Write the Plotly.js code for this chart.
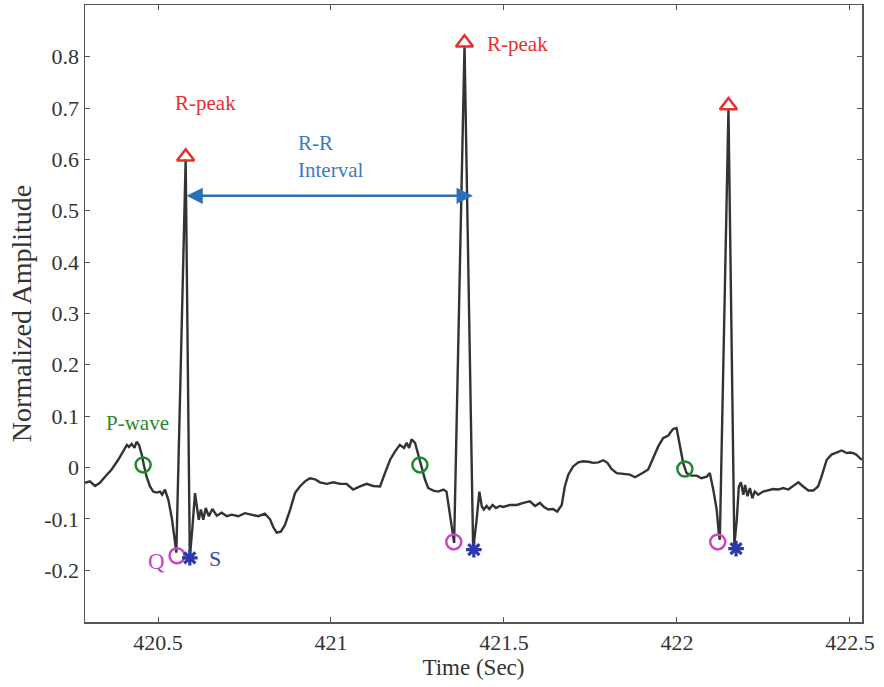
<!DOCTYPE html>
<html>
<head>
<meta charset="utf-8">
<script src="https://cdn.plot.ly/plotly-3.0.1.min.js"></script>
<style>html,body{margin:0;padding:0;background:#fff;}#chart{width:884px;height:687px;}</style>
</head>
<body>
<div id="chart"></div>
<script>
// ECG trace (time in seconds, normalized amplitude)
const timeSec = [
 420.289, 420.303, 420.318, 420.332, 420.347, 420.366, 420.385, 420.400, 420.410, 420.416,
 420.424, 420.432, 420.438, 420.445, 420.453, 420.460, 420.467, 420.477, 420.486, 420.496,
 420.506, 420.512, 420.520, 420.530, 420.540, 420.547, 420.553, 420.580, 420.592, 420.599,
 420.607, 420.613, 420.618, 420.624, 420.631, 420.638, 420.647, 420.657, 420.670, 420.684,
 420.699, 420.713, 420.732, 420.751, 420.771, 420.790, 420.809, 420.824, 420.833, 420.843,
 420.855, 420.867, 420.882, 420.896, 420.910, 420.925, 420.939, 420.954, 420.968, 420.988,
 421.007, 421.026, 421.045, 421.064, 421.084, 421.103, 421.122, 421.142, 421.156, 421.171,
 421.185, 421.199, 421.211, 421.219, 421.226, 421.233, 421.243, 421.252, 421.262, 421.272,
 421.281, 421.296, 421.310, 421.325, 421.334, 421.344, 421.352, 421.356, 421.386, 421.411,
 421.421, 421.429, 421.436, 421.442, 421.450, 421.458, 421.467, 421.477, 421.488, 421.498,
 421.517, 421.537, 421.556, 421.575, 421.590, 421.604, 421.616, 421.628, 421.642, 421.654,
 421.667, 421.676, 421.686, 421.700, 421.715, 421.729, 421.744, 421.758, 421.773, 421.787,
 421.799, 421.811, 421.826, 421.845, 421.864, 421.879, 421.888, 421.903, 421.917, 421.932,
 421.946, 421.960, 421.975, 421.980, 421.989, 421.999, 422.009, 422.018, 422.028, 422.042,
 422.057, 422.071, 422.086, 422.095, 422.105, 422.115, 422.121, 422.124, 422.149, 422.166,
 422.173, 422.179, 422.185, 422.192, 422.197, 422.204, 422.211, 422.218, 422.225, 422.235,
 422.249, 422.264, 422.278, 422.293, 422.307, 422.322, 422.336, 422.351, 422.365, 422.380,
 422.394, 422.408, 422.418, 422.433, 422.447, 422.462, 422.476, 422.491, 422.500, 422.510,
 422.519, 422.529, 422.535
];
const amplitude = [
 -0.030, -0.027, -0.036, -0.030, -0.018, -0.004, 0.015, 0.031, 0.044, 0.040,
 0.046, 0.038, 0.050, 0.044, 0.025, 0.002, -0.018, -0.037, -0.047, -0.049,
 -0.047, -0.053, -0.043, -0.063, -0.099, -0.134, -0.166, 0.600, -0.175, -0.121,
 -0.050, -0.079, -0.102, -0.082, -0.102, -0.079, -0.095, -0.081, -0.094, -0.088,
 -0.095, -0.092, -0.095, -0.089, -0.092, -0.095, -0.090, -0.101, -0.116, -0.127,
 -0.125, -0.112, -0.082, -0.050, -0.037, -0.027, -0.021, -0.023, -0.029, -0.032,
 -0.029, -0.032, -0.032, -0.043, -0.037, -0.032, -0.036, -0.037, -0.011, 0.015,
 0.031, 0.044, 0.038, 0.048, 0.038, 0.055, 0.048, 0.025, 0.002, -0.024,
 -0.040, -0.045, -0.047, -0.043, -0.047, -0.089, -0.128, -0.147, 0.822, -0.160,
 -0.102, -0.047, -0.076, -0.082, -0.075, -0.081, -0.073, -0.079, -0.075, -0.077,
 -0.073, -0.073, -0.069, -0.066, -0.075, -0.069, -0.077, -0.082, -0.081, -0.086,
 -0.073, -0.037, -0.014, 0.002, 0.010, 0.012, 0.011, 0.009, 0.010, 0.014,
 0.009, -0.003, -0.011, -0.012, -0.014, -0.019, -0.016, -0.010, -0.004, 0.021,
 0.041, 0.057, 0.062, 0.067, 0.075, 0.077, 0.041, 0.009, -0.011, -0.016,
 -0.016, -0.021, -0.018, -0.011, -0.043, -0.082, -0.128, -0.141, 0.698, -0.151,
 -0.102, -0.037, -0.029, -0.053, -0.034, -0.056, -0.040, -0.060, -0.047, -0.053,
 -0.047, -0.045, -0.042, -0.043, -0.040, -0.043, -0.036, -0.029, -0.037, -0.045,
 -0.045, -0.037, -0.018, 0.015, 0.025, 0.029, 0.033, 0.028, 0.029, 0.028,
 0.025, 0.018, 0.015
];

// Fiducial points
const rPeakT = [420.580, 421.386, 422.149];
const rPeakV = [0.605, 0.827, 0.705];
const qT = [420.555, 421.355, 422.118];
const qV = [-0.172, -0.145, -0.145];
const sT = [420.592, 421.413, 422.171];
const sV = [-0.176, -0.160, -0.158];
const pT = [420.457, 421.257, 422.023];
const pV = [0.005, 0.005, -0.003];

// R-R interval arrow (start/end time, level)
const rrStartT = 420.578;
const rrEndT = 421.410;
const rrLevel = 0.529;

const xTickVals = [420.5, 421, 421.5, 422, 422.5];
const xTickText = ['420.5', '421', '421.5', '422', '422.5'];
const yTickVals = [-0.2, -0.1, 0, 0.1, 0.2, 0.3, 0.4, 0.5, 0.6, 0.7, 0.8];
const yTickText = ['-0.2', '-0.1', '0', '0.1', '0.2', '0.3', '0.4', '0.5', '0.6', '0.7', '0.8'];

const serif = 'Liberation Serif, Times New Roman, serif';

const traces = [
  {x: timeSec, y: amplitude, type: 'scatter', mode: 'lines',
   line: {color: '#333333', width: 2.4}, hoverinfo: 'x+y'},
  {x: rPeakT, y: rPeakV, type: 'scatter', mode: 'markers',
   marker: {symbol: 'triangle-up-open', size: 15, color: '#e8302a', line: {width: 2.5, color: '#e8302a'}}},
  {x: qT, y: qV, type: 'scatter', mode: 'markers',
   marker: {symbol: 'circle-open', size: 15, color: '#cc44c8', line: {width: 2.5, color: '#cc44c8'}}},
  {x: sT, y: sV, type: 'scatter', mode: 'markers',
   marker: {symbol: 'asterisk-open', size: 13, color: '#2b3aa8', line: {width: 3.2, color: '#2b3aa8'}}},
  {x: pT, y: pV, type: 'scatter', mode: 'markers',
   marker: {symbol: 'circle-open', size: 15, color: '#1e8a2e', line: {width: 2.5, color: '#1e8a2e'}}}
];

const annFont = (c) => ({family: serif, size: 21, color: c});

const layout = {
  width: 884, height: 687,
  margin: {l: 85, r: 22, t: 5, b: 65},
  paper_bgcolor: '#ffffff', plot_bgcolor: '#ffffff',
  showlegend: false,
  font: {family: serif, color: '#333333'},
  xaxis: {
    range: [420.289, 422.535], tickvals: xTickVals, ticktext: xTickText,
    showgrid: false, zeroline: false,
    showline: true, mirror: 'allticks', linecolor: '#555555', linewidth: 1.5,
    ticks: 'inside', ticklen: 5, tickcolor: '#555555',
    tickfont: {family: serif, size: 22, color: '#333333'},
    title: {text: 'Time (Sec)', font: {family: serif, size: 23, color: '#333333'}, standoff: 4}
  },
  yaxis: {
    range: [-0.301, 0.9007], tickvals: yTickVals, ticktext: yTickText,
    showgrid: false, zeroline: false,
    showline: true, mirror: 'allticks', linecolor: '#555555', linewidth: 1.5,
    ticks: 'inside', ticklen: 5, tickcolor: '#555555',
    tickfont: {family: serif, size: 22, color: '#333333'},
    title: {text: 'Normalized Amplitude', font: {family: serif, size: 28, color: '#333333'}, standoff: 4}
  },
  annotations: [
    {x: 420.636, y: 0.710, text: 'R-peak', showarrow: false, font: annFont('#e8302a')},
    {x: 421.540, y: 0.825, text: 'R-peak', showarrow: false, font: annFont('#e8302a')},
    {x: 420.899, y: 0.605, text: 'R-R<br>Interval', showarrow: false, align: 'left', xanchor: 'left', font: annFont('#3a7cc0')},
    {x: 420.440, y: 0.087, text: 'P-wave', showarrow: false, font: annFont('#2a8a2a')},
    {x: 420.497, y: -0.184, text: 'Q', showarrow: false, font: {family: serif, size: 23, color: '#cc44c8'}},
    {x: 420.665, y: -0.178, text: 'S', showarrow: false, font: {family: serif, size: 22, color: '#3a4ab0'}},
    {x: rrEndT, y: rrLevel, ax: rrStartT, ay: rrLevel, axref: 'x', ayref: 'y', xref: 'x', yref: 'y',
     text: '', showarrow: true, arrowhead: 2, startarrowhead: 2, arrowside: 'end+start',
     arrowsize: 1.3, startarrowsize: 1.3, arrowwidth: 2.5, arrowcolor: '#2a70b8', standoff: 0, startstandoff: 0}
  ]
};

Plotly.newPlot('chart', traces, layout, {displayModeBar: false, staticPlot: true});
</script>
</body>
</html>
